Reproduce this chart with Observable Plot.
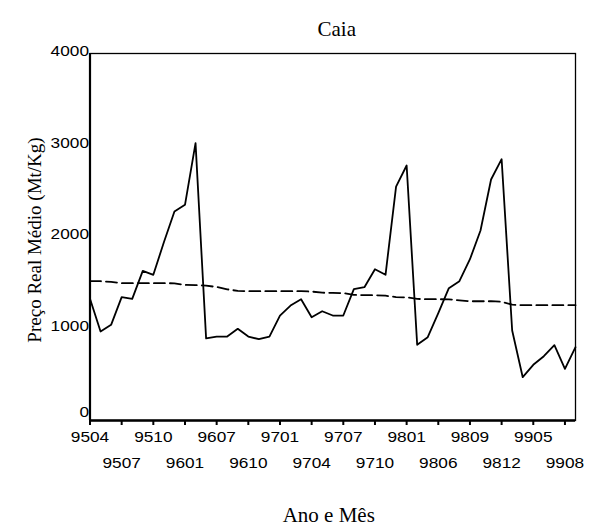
<!DOCTYPE html>
<html><head><meta charset="utf-8">
<script src="https://cdn.jsdelivr.net/npm/d3@7"></script>
<script src="https://cdn.jsdelivr.net/npm/@observablehq/plot@0.6"></script>
<style>body{margin:0;background:#fff}</style>
</head><body><div id="chart"></div>
<script>
const title = "Caia";
const yLabel = "Preço Real Médio (Mt/Kg)";
const xLabel = "Ano e Mês";
// observed real mean price, one value per observation (47 observations)
const price = [1326, 970, 1043, 1344, 1326, 1631, 1588, 1943, 2278, 2351,
  3023, 895, 915, 915, 999, 915, 886, 915, 1144, 1253,
  1322, 1126, 1191, 1144, 1144, 1431, 1453, 1649, 1588, 2550,
  2779, 825, 908, 1170, 1442, 1519, 1758, 2071, 2627, 2848,
  981, 472, 607, 701, 821, 563, 799];
// trend (dashed line)
const trend = [1518, 1518, 1510, 1497, 1497, 1497, 1497, 1497, 1495, 1478,
  1475, 1470, 1455, 1430, 1412, 1410, 1410, 1410, 1410, 1410,
  1409, 1405, 1393, 1391, 1388, 1370, 1366, 1366, 1360, 1345,
  1342, 1325, 1322, 1322, 1320, 1310, 1300, 1300, 1300, 1295,
  1262, 1257, 1257, 1257, 1257, 1257, 1257];
const tickLabels = ["9504","9507","9510","9601","9607","9610","9701","9704",
  "9707","9710","9801","9806","9809","9812","9905","9908"];
const yTicks = [0, 1000, 2000, 3000, 4000];

const data = price.map((v, i) => ({i, price: v, trend: trend[i]}));
const tickIdx = tickLabels.map((_, k) => k * 3);
const evenTicks = tickIdx.filter((_, k) => k % 2 === 0);
const oddTicks = tickIdx.filter((_, k) => k % 2 === 1);
const fmt = i => tickLabels[i / 3];
const serif = "Liberation Serif, Times New Roman, serif";

const chart = Plot.plot({
  width: 592, height: 530,
  marginLeft: 89.5, marginRight: 17, marginTop: 53, marginBottom: 110,
  x: {domain: [0, price.length - 1], axis: null},
  y: {domain: [0, 4000], axis: null},
  style: {fontFamily: "Liberation Sans, Arial, sans-serif", background: "white", color: "black"},
  marks: [
    Plot.frame({stroke: "black", strokeWidth: 1.3}),
    Plot.line(data, {x: "i", y: "trend", stroke: "black", strokeWidth: 1.8, strokeDasharray: "11,5"}),
    Plot.line(data, {x: "i", y: "price", stroke: "black", strokeWidth: 1.8}),
    Plot.ruleX([0], {stroke: "black", strokeWidth: 2.2}),
    Plot.ruleY([0], {stroke: "black", strokeWidth: 2.5}),
    Plot.axisX(evenTicks, {tickFormat: fmt, tickSize: 5, tickPadding: 7, fontSize: 14, strokeWidth: 2, label: null}),
    Plot.axisX(oddTicks, {tickFormat: fmt, tickSize: 5, tickPadding: 33, fontSize: 14, strokeWidth: 2, label: null}),
    Plot.axisY(yTicks.filter(v => v > 0), {tickFormat: d => String(d), tickSize: 0, tickPadding: 1, fontSize: 14, dy: -2, label: null}),
    Plot.axisY(yTicks.filter(v => v === 0), {tickFormat: d => String(d), tickSize: 0, tickPadding: 1, fontSize: 14, dy: -8, label: null}),
    Plot.text([title], {text: d => d, frameAnchor: "top", dx: 4, dy: -32, fontSize: 21, fontFamily: serif}),
    Plot.text([yLabel], {text: d => d, frameAnchor: "left", textAnchor: "middle", rotate: -90, dx: -55, dy: 3, fontSize: 19, fontFamily: serif}),
    Plot.text([xLabel], {text: d => d, frameAnchor: "bottom", dx: -4, dy: 101, fontSize: 21, fontFamily: serif})
  ]
});
document.getElementById("chart").appendChild(chart);
chart.querySelectorAll('g[aria-label="x-axis tick label"] text, g[aria-label="y-axis tick label"] text').forEach(t => {
  t.setAttribute("textLength", 9.6 * t.textContent.length);
  t.setAttribute("lengthAdjust", "spacingAndGlyphs");
});
</script>
</body></html>
